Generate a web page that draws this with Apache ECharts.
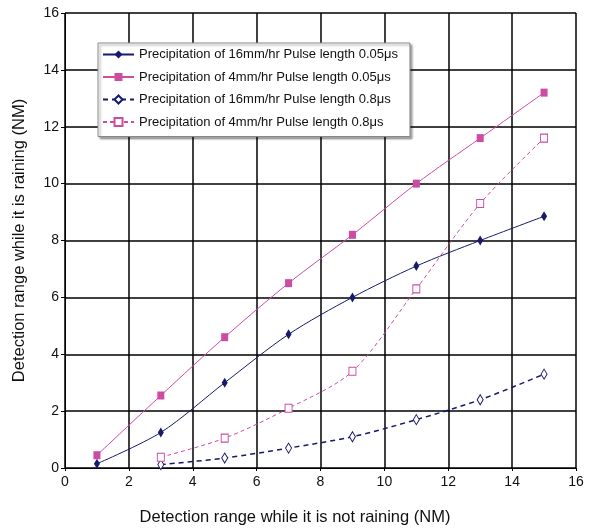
<!DOCTYPE html>
<html><head><meta charset="utf-8">
<script src="https://cdn.jsdelivr.net/npm/echarts@6/dist/echarts.min.js"></script>
<style>html,body{margin:0;padding:0;background:#fff}#c{width:594px;height:531px}</style>
</head><body><div id="c"></div>
<script>
var seriesNames = [
  'Precipitation of 16mm/hr Pulse length 0.05\u03bcs',
  'Precipitation of 4mm/hr Pulse length 0.05\u03bcs',
  'Precipitation of 16mm/hr Pulse length 0.8\u03bcs',
  'Precipitation of 4mm/hr Pulse length 0.8\u03bcs'
];
var xShort = [1, 3, 5, 7, 9, 11, 13, 15];
var xLong = [3, 5, 7, 9, 11, 13, 15];
var s16short = [0.15, 1.25, 3.0, 4.7, 6.0, 7.1, 8.0, 8.85];
var s4short = [0.45, 2.55, 4.6, 6.5, 8.2, 10.0, 11.6, 13.2];
var s16long = [0.12, 0.35, 0.7, 1.1, 1.7, 2.4, 3.3];
var s4long = [0.38, 1.05, 2.1, 3.4, 6.3, 9.3, 11.6];
var xTicks = [0, 2, 4, 6, 8, 10, 12, 14, 16];
var yTicks = [0, 2, 4, 6, 8, 10, 12, 14, 16];

function pairs(xs, ys) { return xs.map(function (x, i) { return [x, ys[i]]; }); }
var navy = '#16196c', pink = '#cc4ca3';
var font = 'Liberation Sans, Arial, sans-serif';

var chart = echarts.init(document.getElementById('c'));
chart.setOption({
  animation: false,
  grid: { left: 65, right: 18, top: 13, bottom: 61 },
  xAxis: {
    type: 'value', min: xTicks[0], max: xTicks[xTicks.length - 1], interval: 2,
    name: 'Detection range while it is not raining (NM)', nameLocation: 'middle', nameGap: 41,
    nameTextStyle: { color: '#111', fontSize: 16.5, fontFamily: font, padding: [0, 51, 0, 0] },
    axisLine: { lineStyle: { color: '#000', width: 1 } },
    axisTick: { show: true, length: 3, lineStyle: { color: '#000' } },
    axisLabel: { color: '#111', fontSize: 14, fontFamily: font, margin: 7 },
    splitLine: { lineStyle: { color: '#000', width: 1.5 } }
  },
  yAxis: {
    type: 'value', min: yTicks[0], max: yTicks[yTicks.length - 1], interval: 2,
    name: 'Detection range while it is raining (NM)', nameLocation: 'middle', nameGap: 37,
    nameTextStyle: { color: '#111', fontSize: 16.5, fontFamily: font },
    axisLine: { show: true, lineStyle: { color: '#000', width: 1 } },
    axisTick: { show: true, inside: false, length: 4, lineStyle: { color: '#000' } },
    axisLabel: { color: '#111', fontSize: 14, fontFamily: font, margin: 6 },
    splitLine: { lineStyle: { color: '#000', width: 1.5 } }
  },
  legend: {
    orient: 'vertical', left: 98, top: 43,
    backgroundColor: '#fff', borderColor: '#888', borderWidth: 1,
    shadowColor: 'rgba(0,0,0,0.35)', shadowOffsetX: 2, shadowOffsetY: 2, shadowBlur: 2,
    padding: [5, 12, 8, 4], itemGap: 9.5, itemWidth: 31, itemHeight: 10,
    textStyle: { color: '#111', fontSize: 13, fontFamily: font },
    data: seriesNames
  },
  series: [
    {
      name: seriesNames[0], type: 'line', smooth: 0.3, data: pairs(xShort, s16short),
      symbol: 'diamond', symbolSize: [6, 10],
      lineStyle: { color: navy, width: 1 }, itemStyle: { color: navy }
    },
    {
      name: seriesNames[1], type: 'line', smooth: 0.3, data: pairs(xShort, s4short),
      symbol: 'rect', symbolSize: [7, 8],
      lineStyle: { color: pink, width: 1 }, itemStyle: { color: pink }
    },
    {
      name: seriesNames[2], type: 'line', smooth: 0.3, data: pairs(xLong, s16long),
      symbol: 'diamond', symbolSize: [6, 10],
      lineStyle: { color: navy, width: 1.5, type: [5, 4] },
      itemStyle: { color: '#fff', borderColor: navy, borderWidth: 1 }
    },
    {
      name: seriesNames[3], type: 'line', smooth: 0.3, data: pairs(xLong, s4long),
      symbol: 'rect', symbolSize: [7, 8],
      lineStyle: { color: pink, width: 1, type: [4, 3] },
      itemStyle: { color: '#fff', borderColor: pink, borderWidth: 1 }
    }
  ]
});
</script>
</body></html>
